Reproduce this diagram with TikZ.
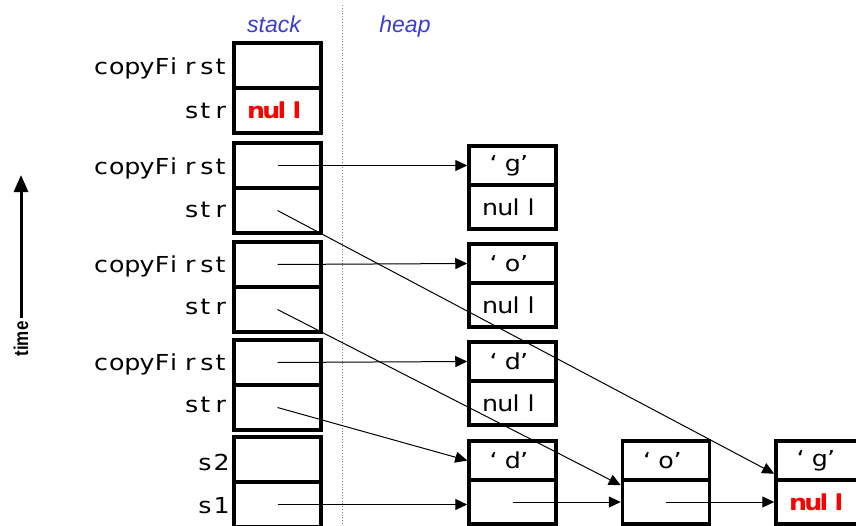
\documentclass[tikz,border=0pt]{standalone}
\usepackage{fontspec}
\usetikzlibrary{arrows.meta,calc}
\newfontfamily\codefont{DejaVu Sans}[FakeStretch=1.15]
\newfontfamily\headfont{Liberation Sans}
\definecolor{headblue}{RGB}{60,60,205}
\definecolor{nullred}{RGB}{255,0,0}

% set a word with a fixed advance per character (glyphs flush left in their slot)
\newcommand\pitched[1]{\pitchedloop#1\pitchedstop}
\def\pitchedstop{\pitchedstop}
\def\pitchedloop#1{\ifx#1\pitchedstop\else\makebox[15.2pt][l]{#1}\expandafter\pitchedloop\fi}

\begin{document}
\begin{tikzpicture}[x=1pt,y=-1pt,
  codetext/.style={font=\codefont\fontsize{22}{24}\selectfont},
  cell/.style={draw, line width=3.5pt, minimum width=87pt, inner sep=0pt, codetext},
  stackcell/.style={cell, minimum height=45pt},
  heaptop/.style={cell, minimum height=39pt},
  heapbot/.style={cell, minimum height=44pt},
  varname/.style={anchor=base east, inner sep=0pt, codetext},
  nullval/.style={text=nullred, font=\codefont\bfseries\fontsize{22}{24}\selectfont},
  ptr/.style={line width=1pt, -{Triangle[length=12pt,width=11pt]}},
  region/.style={anchor=base, inner sep=0pt, text=headblue,
                 font=\headfont\itshape\fontsize{23}{26}\selectfont},
]
\useasboundingbox (0,0) rectangle (856,525);
\clip (0,0) rectangle (856,525);

% stack / heap separator
\coordinate (divtop) at (342,5);
\coordinate (divbot) at (342,525);
\draw[dotted, line width=0.8pt, gray] (divtop) -- (divbot);

\node[region] (stackhead) at (274,32) {stack};
\node[region] (heaphead)  at (405,32) {heap};

% time axis
\coordinate (tbase) at (21,318);
\coordinate (ttop)  at (21,175);
\draw[line width=3pt, -{Triangle[length=17pt,width=14pt]}] (tbase) -- (ttop);
\node[rotate=90, inner sep=0pt, xscale=0.85,
      font=\headfont\bfseries\fontsize{20}{22}\selectfont]
  (timelbl) at (21,339) {time};

% stack frames
\node[stackcell] (f1a) at (277.5,65.5)  {};
\node[stackcell,nullval] (f1b) at (277.5,110.5) {\pitched{null}};
\node[stackcell] (f2a) at (277.5,165.5) {};
\node[stackcell] (f2b) at (277.5,210.5) {};
\node[stackcell] (f3a) at (277.5,264.5) {};
\node[stackcell] (f3b) at (277.5,309.5) {};
\node[stackcell] (f4a) at (277.5,362.5) {};
\node[stackcell] (f4b) at (277.5,407.5) {};
\node[stackcell] (f5a) at (277.5,459.5) {};
\node[stackcell] (f5b) at (277.5,504.5) {};

\node[varname] (l1a) at (231,74)  {\pitched{copyFirst}};
\node[varname] (l1b) at (231,118) {\pitched{str}};
\node[varname] (l2a) at (231,174) {\pitched{copyFirst}};
\node[varname] (l2b) at (231,217) {\pitched{str}};
\node[varname] (l3a) at (231,272) {\pitched{copyFirst}};
\node[varname] (l3b) at (231,314) {\pitched{str}};
\node[varname] (l4a) at (231,370) {\pitched{copyFirst}};
\node[varname] (l4b) at (231,412) {\pitched{str}};
\node[varname] (l5a) at (229,470) {\pitched{s2}};
\node[varname] (l5b) at (229,513) {\pitched{s1}};

% heap list nodes
\node[heaptop] (g1t) at (512.5,165.5) {\pitched{‘g’}};
\node[heapbot] (g1b) at (512.5,207)   {\pitched{null}};
\node[heaptop] (o1t) at (512.5,263.5) {\pitched{‘o’}};
\node[heapbot] (o1b) at (512.5,305)   {\pitched{null}};
\node[heaptop] (d1t) at (512.5,361.5) {\pitched{‘d’}};
\node[heapbot] (d1b) at (512.5,403)   {\pitched{null}};

\node[heaptop] (d4t) at (512.5,460.5) {\pitched{‘d’}};
\node[heapbot] (d4b) at (512.5,502)   {};
\node[heaptop] (o4t) at (666,460.5)   {\pitched{‘o’}};
\node[heapbot] (o4b) at (666,502)     {};
\node[heaptop] (g4t) at (819.5,460.5) {\pitched{‘g’}};
\node[heapbot,nullval] (g4b) at (819.5,502) {\pitched{null}};

% references
\draw[ptr] (f2a.center) -- (g1t.west);
\draw[ptr] (f2b.center) -- ($(g4t.south west)+(0,-8)$);
\draw[ptr] (f3a.center) -- (o1t.west);
\draw[ptr] (f3b.center) -- ($(o4b.north west)+(0,7)$);
\draw[ptr] (f4a.center) -- (d1t.west);
\draw[ptr] (f4b.center) -- (d4t.west);
\draw[ptr] (f5b.center) -- (f5b.center -| d4b.west);
\draw[ptr] (d4b.center) -- (o4b.west);
\draw[ptr] (o4b.center) -- (g4b.west);
\end{tikzpicture}
\end{document}
